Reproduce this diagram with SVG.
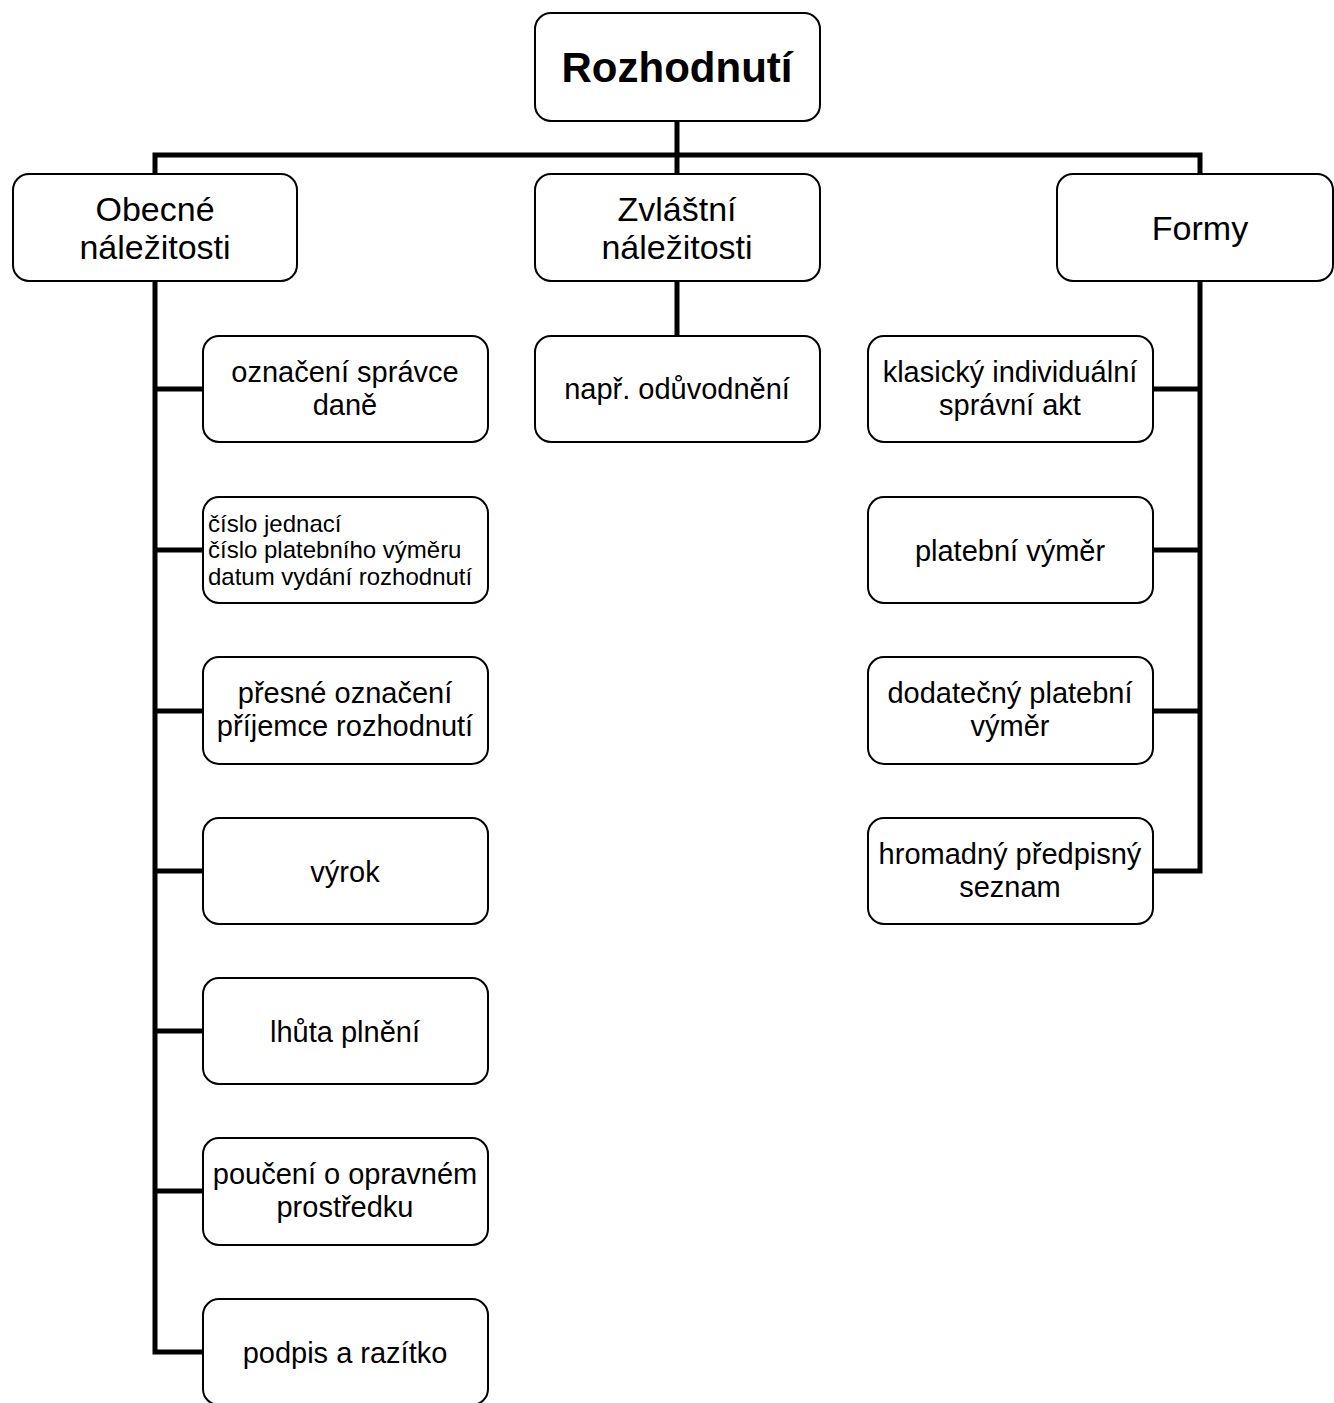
<svg xmlns="http://www.w3.org/2000/svg" width="1334" height="1403" viewBox="0 0 1334 1403">
<style>
.box{fill:#fff;stroke:#000;stroke-width:2}
.c{fill:none;stroke:#000;stroke-width:5;stroke-linejoin:miter}
text{font-family:"Liberation Sans",Arial,sans-serif;fill:#000}
.t1{font-size:42px;font-weight:bold;text-anchor:middle}
.t2{font-size:34px;text-anchor:middle}
.t3{font-size:29px;text-anchor:middle}
.t4{font-size:24px}
</style>
<g id="connectors">
<path class="c" d="M677 121V174"/>
<path class="c" d="M155 174V155H1200V174"/>
<path class="c" d="M155 281V1352H203"/>
<path class="c" d="M155 389H203M155 550H203M155 711H203M155 871H203M155 1031H203M155 1191H203"/>
<path class="c" d="M677 281V336"/>
<path class="c" d="M1200 281V871H1153M1153 389H1200M1153 550H1200M1153 711H1200"/>
</g>
<g id="root"><rect class="box" x="535" y="13" width="285" height="108" rx="16"/><text class="t1" x="677" y="82">Rozhodnutí</text></g>
<g id="obecne"><rect class="box" x="13" y="174" width="284" height="107" rx="16"/><text class="t2" x="155" y="221">Obecné</text><text class="t2" x="155" y="259">náležitosti</text></g>
<g id="zvlastni"><rect class="box" x="535" y="174" width="285" height="107" rx="16"/><text class="t2" x="677" y="221">Zvláštní</text><text class="t2" x="677" y="259">náležitosti</text></g>
<g id="formy"><rect class="box" x="1057" y="174" width="276" height="107" rx="16"/><text class="t2" x="1200" y="240">Formy</text></g>
<g id="oznaceni"><rect class="box" x="203" y="336" width="285" height="106" rx="16"/><text class="t3" x="345" y="382">označení správce</text><text class="t3" x="345" y="415">daně</text></g>
<g id="cislo"><rect class="box" x="203" y="497" width="285" height="106" rx="16"/><text class="t4" x="208" y="532">číslo jednací</text><text class="t4" x="208" y="558">číslo platebního výměru</text><text class="t4" x="208" y="585">datum vydání rozhodnutí</text></g>
<g id="presne"><rect class="box" x="203" y="657" width="285" height="107" rx="16"/><text class="t3" x="345" y="703">přesné označení</text><text class="t3" x="345" y="736">příjemce rozhodnutí</text></g>
<g id="vyrok"><rect class="box" x="203" y="818" width="285" height="106" rx="16"/><text class="t3" x="345" y="882">výrok</text></g>
<g id="lhuta"><rect class="box" x="203" y="978" width="285" height="106" rx="16"/><text class="t3" x="345" y="1042">lhůta plnění</text></g>
<g id="pouceni"><rect class="box" x="203" y="1138" width="285" height="107" rx="16"/><text class="t3" x="345" y="1184">poučení o opravném</text><text class="t3" x="345" y="1217">prostředku</text></g>
<g id="podpis"><rect class="box" x="203" y="1299" width="285" height="106" rx="16"/><text class="t3" x="345" y="1363">podpis a razítko</text></g>
<g id="napr"><rect class="box" x="535" y="336" width="285" height="106" rx="16"/><text class="t3" x="677" y="399">např. odůvodnění</text></g>
<g id="klasicky"><rect class="box" x="868" y="336" width="285" height="106" rx="16"/><text class="t3" x="1010" y="382">klasický individuální</text><text class="t3" x="1010" y="415">správní akt</text></g>
<g id="platebni"><rect class="box" x="868" y="497" width="285" height="106" rx="16"/><text class="t3" x="1010" y="561">platební výměr</text></g>
<g id="dodatecny"><rect class="box" x="868" y="657" width="285" height="107" rx="16"/><text class="t3" x="1010" y="703">dodatečný platební</text><text class="t3" x="1010" y="736">výměr</text></g>
<g id="hromadny"><rect class="box" x="868" y="818" width="285" height="106" rx="16"/><text class="t3" x="1010" y="864">hromadný předpisný</text><text class="t3" x="1010" y="897">seznam</text></g>
</svg>
